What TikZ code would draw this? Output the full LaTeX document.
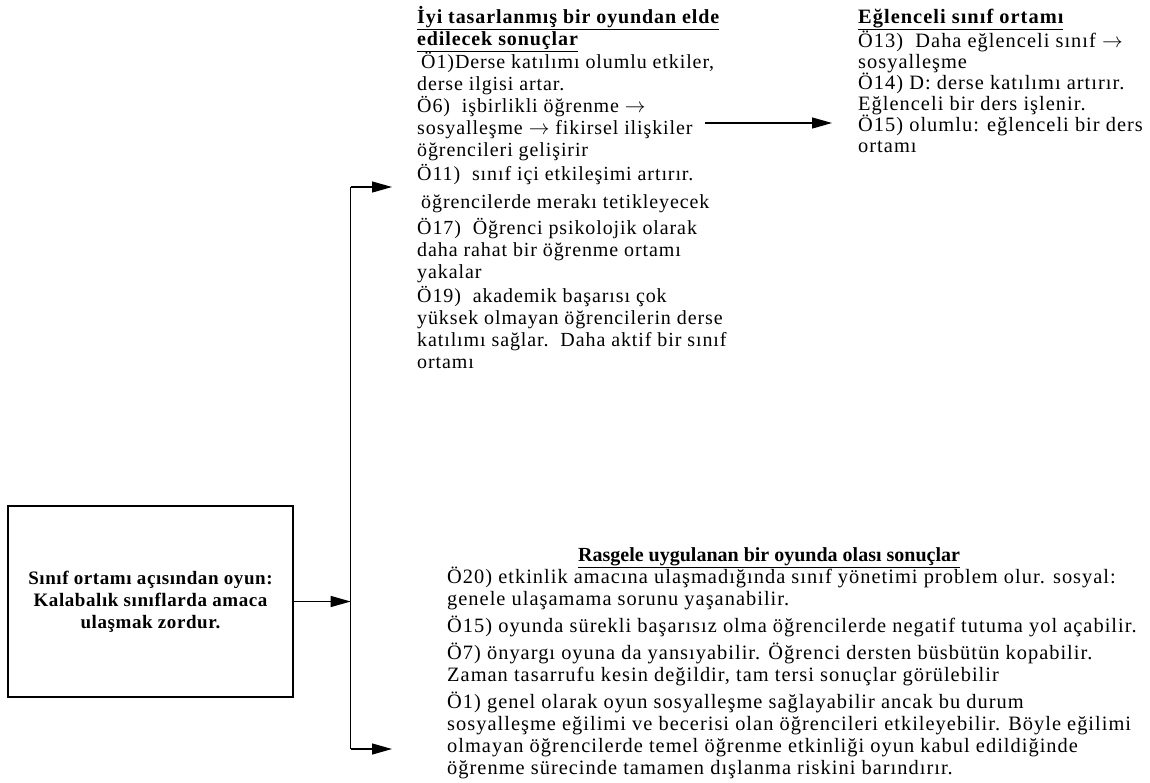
\documentclass[tikz,border=0pt]{standalone}
\usepackage{fontspec}
\setmainfont{Liberation Serif}
\usetikzlibrary{arrows.meta}

\newcommand{\firstline}{\rule{0pt}{20pt}}
\newcommand{\ra}{\ensuremath{\rightarrow}}

\tikzset{
  conn/.style={line width=1.2pt},
  arr/.style={conn, -{Triangle[length=20pt, width=11pt]}},
  txt/.style={inner sep=0pt, align=left, anchor=north west,
    font=\fontsize{20.4}{22}\selectfont\addfontfeature{LetterSpace=5}},
  gamebox/.style={draw, line width=1.2pt, align=center,
    font=\fontsize{19}{22}\selectfont\bfseries\addfontfeature{LetterSpace=3}}
}

\begin{document}
\begin{tikzpicture}[x=1pt, y=-1pt]
\useasboundingbox (0,0) rectangle (1150,782);

% central box
\node[gamebox, minimum width=285pt, minimum height=191pt] (game) at (150.5,601.5)
  {Sınıf ortamı açısından oyun:\\Kalabalık sınıflarda amaca\\ulaşmak zordur.};

% outcomes of a well designed game
\node[txt, font=\fontsize{20}{22}\selectfont\addfontfeature{LetterSpace=4.5}] (good) at (417,3) {%
  \firstline{\bfseries\underline{İyi tasarlanmış bir oyundan elde}}\\
  {\bfseries\underline{edilecek sonuçlar}}\\
  \hspace{4pt}Ö1)Derse katılımı olumlu etkiler,\\
  derse ilgisi artar.\\
  Ö6)\ \ işbirlikli öğrenme \ra\\
  sosyalleşme \ra{} fikirsel ilişkiler\\
  öğrencileri gelişirir\\[2pt]
  Ö11)\ \ sınıf içi etkileşimi artırır.\\[6pt]
  \hspace{4pt}öğrencilerde merakı tetikleyecek\\[4pt]
  Ö17)\ \ Öğrenci psikolojik olarak\\
  daha rahat bir öğrenme ortamı\\
  yakalar\\[2pt]
  Ö19)\ \ akademik başarısı çok\\
  yüksek olmayan öğrencilerin derse\\
  katılımı sağlar.\ \ Daha aktif bir sınıf\\
  ortamı};

% fun classroom
\node[txt, font=\fontsize{20.4}{21}\selectfont\addfontfeature{LetterSpace=5}] (fun) at (858,3) {%
  \firstline{\bfseries\underline{Eğlenceli sınıf ortamı}}\\
  Ö13)\ \ Daha eğlenceli sınıf \ra\\
  sosyalleşme\\
  Ö14) D: derse katılımı artırır.\\
  Eğlenceli bir ders işlenir.\\
  Ö15) olumlu: eğlenceli bir ders\\
  ortamı};

% outcomes of a randomly applied game
\node[inner sep=0pt, anchor=base west, font=\fontsize{20}{22}\selectfont\bfseries]
  (rtitle) at (578,561) {\underline{Rasgele uygulanan bir oyunda olası sonuçlar}};
\node[txt] (random) at (447,563) {%
  \firstline Ö20) etkinlik amacına ulaşmadığında sınıf yönetimi problem olur. sosyal:\\
  genele ulaşamama sorunu yaşanabilir.\\[5pt]
  Ö15) oyunda sürekli başarısız olma öğrencilerde negatif tutuma yol açabilir.\\[5pt]
  Ö7) önyargı oyuna da yansıyabilir. Öğrenci dersten büsbütün kopabilir.\\
  Zaman tasarrufu kesin değildir, tam tersi sonuçlar görülebilir\\[5pt]
  Ö1) genel olarak oyun sosyalleşme sağlayabilir ancak bu durum\\
  sosyalleşme eğilimi ve becerisi olan öğrencileri etkileyebilir. Böyle eğilimi\\
  olmayan öğrencilerde temel öğrenme etkinliği oyun kabul edildiğinde\\
  öğrenme sürecinde tamamen dışlanma riskini barındırır.};

% branching connector
\coordinate (jmid) at (350.7,601.5);
\coordinate (jtop) at (350.7,187);
\coordinate (jbot) at (350.7,749);
\coordinate (goodin) at (392,187);
\coordinate (randin) at (392,749);
\coordinate (linkout) at (705,123);
\coordinate (funin) at (832,123);

\draw[arr] (game.east) -- (jmid);
\draw[conn] (jtop) -- (jbot);
\draw[arr] (jtop) -- (goodin);
\draw[arr] (jbot) -- (randin);
\draw[arr] (linkout) -- (funin);
\end{tikzpicture}
\end{document}
